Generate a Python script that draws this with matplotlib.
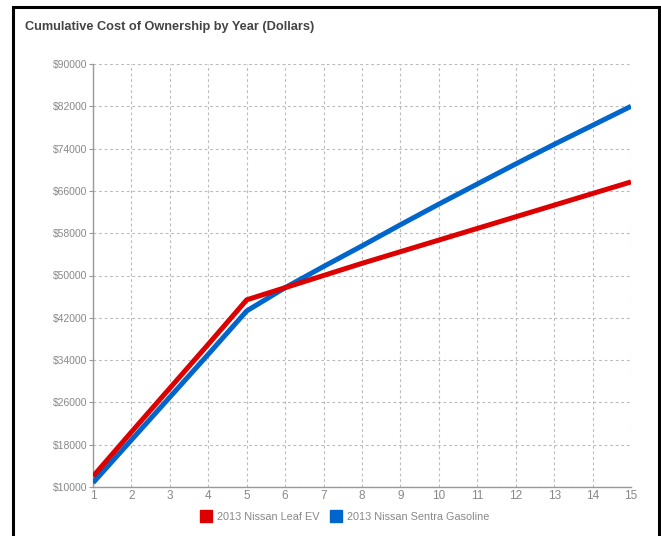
import matplotlib.pyplot as plt
from matplotlib.patches import Rectangle
from matplotlib.lines import Line2D

# Cumulative ownership cost per year of ownership
years = list(range(1, 16))
leaf_ev = [12000, 20400, 28700, 37000, 45400, 47700, 50000, 52300, 54500,
           56700, 58900, 61100, 63300, 65500, 67700]
sentra_gas = [10800, 18900, 27000, 35100, 43300, 47700, 51700, 55600, 59600,
              63500, 67300, 71100, 74800, 78400, 82000]
y_ticks = list(range(10000, 90001, 8000))

plt.rcParams['font.family'] = ['Liberation Sans', 'DejaVu Sans']

fig = plt.figure(figsize=(6.61, 5.36), dpi=100)
ax = fig.add_axes([93 / 661, 1 - 487 / 536, (631 - 93) / 661, (487 - 64) / 536])

ax.plot(years, sentra_gas, color='#0066cc', linewidth=3.6, solid_capstyle='butt', zorder=3)
ax.plot(years, leaf_ev, color='#dd0000', linewidth=3.6, solid_capstyle='butt', zorder=4)

ax.set_xlim(1, 15)
ax.set_ylim(10000, 90000)
ax.set_xticks(years)
ax.set_yticks(y_ticks)
ax.set_yticklabels(['$%d' % v for v in y_ticks])

ax.grid(True, color='#bbbbbb', linestyle=(0, (2.5, 2.5)), linewidth=0.8)
for side in ['top', 'right']:
    ax.spines[side].set_visible(False)
for side in ['left', 'bottom']:
    ax.spines[side].set_color('#999999')
    ax.spines[side].set_linewidth(1.0)
ax.tick_params(axis='y', colors='#999999', labelcolor='#888888', labelsize=7.5,
               length=3, pad=1)
ax.tick_params(axis='x', colors='#999999', labelcolor='#888888', labelsize=8.5,
               length=0, pad=2)

fig.text(25 / 661, 1 - 27 / 536, 'Cumulative Cost of Ownership by Year (Dollars)',
         fontsize=9.2, fontweight='bold', color='#444444', va='center', ha='left')

handles = [Line2D([], [], marker='s', linestyle='none', markersize=8,
                  markerfacecolor='#dd0000', markeredgecolor='#dd0000'),
           Line2D([], [], marker='s', linestyle='none', markersize=8,
                  markerfacecolor='#0066cc', markeredgecolor='#0066cc')]
fig.legend(handles, ['2013 Nissan Leaf EV', '2013 Nissan Sentra Gasoline'],
           loc='center', bbox_to_anchor=(345 / 661, 1 - 517 / 536), ncol=2,
           frameon=False, fontsize=7.8, labelcolor='#888888',
           handletextpad=0.5, columnspacing=1.0, handlelength=1.0)

# outer frame around the whole panel
fig.patches.append(Rectangle((13 / 661, -0.05), (659 - 13) / 661, 1.05 - 7 / 536,
                             transform=fig.transFigure, fill=False,
                             edgecolor='black', linewidth=2.2))

fig.savefig('out.png', dpi=100)
